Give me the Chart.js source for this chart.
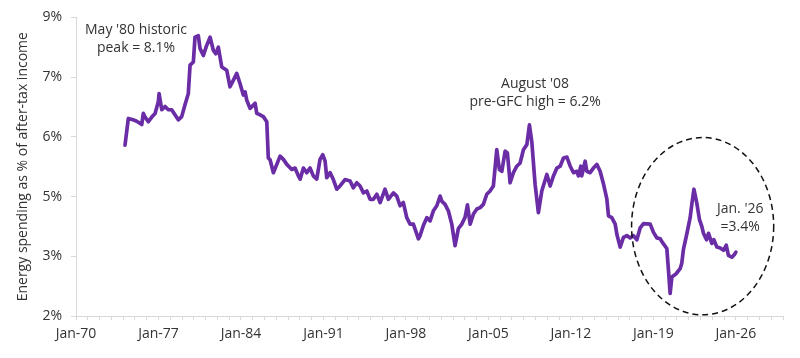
<!DOCTYPE html>
<html>
<head>
<meta charset="utf-8">
<script src="https://cdn.jsdelivr.net/npm/chart.js@4.4.1/dist/chart.umd.min.js"></script>
<style>
html,body{margin:0;padding:0;background:#fff;}
#wrap{width:800px;height:358px;position:relative;}
</style>
</head>
<body>
<div id="wrap"><canvas id="c" width="800" height="358"></canvas></div>
<script>
// ---- Data (decimal year, % of after-tax income) ----
const dates = [
1974.16,1974.44,1974.84,1975.15,1975.58,1975.71,1975.86,1976.14,1976.43,1976.71,1976.99,1977.05,1977.28,1977.56,1977.84,
1978.12,1978.40,1978.68,1978.97,1979.25,1979.53,1979.68,1979.96,1980.10,1980.38,1980.53,1980.81,1981.09,1981.38,1981.66,
1981.86,1982.08,1982.37,1982.79,1983.07,1983.35,1983.64,1983.92,1984.20,1984.35,1984.49,1984.77,1985.05,1985.20,1985.34,
1985.62,1985.90,1986.19,1986.32,1986.47,1986.75,1987.04,1987.32,1987.60,1987.89,1988.31,1988.59,1988.87,1989.02,1989.30,
1989.58,1989.86,1990.14,1990.43,1990.71,1990.94,1991.14,1991.28,1991.56,1991.84,1992.13,1992.41,1992.83,1993.26,1993.54,
1993.83,1994.11,1994.39,1994.68,1994.96,1995.24,1995.53,1995.81,1996.23,1996.51,1996.94,1997.22,1997.50,1997.78,1998.07,
1998.35,1998.63,1999.06,1999.20,1999.48,1999.77,2000.05,2000.33,2000.62,2000.90,2001.04,2001.32,2001.60,2001.89,2002.17,
2002.45,2002.74,2003.02,2003.22,2003.45,2003.73,2004.02,2004.30,2004.57,2004.86,2005.14,2005.42,2005.71,2005.93,2006.14,
2006.42,2006.61,2006.84,2007.12,2007.41,2007.69,2007.97,2008.26,2008.48,2008.68,2008.96,2009.24,2009.53,2009.96,2010.24,
2010.52,2010.81,2011.09,2011.37,2011.66,2011.94,2012.22,2012.50,2012.64,2012.84,2012.92,2013.21,2013.35,2013.63,2013.91,
2014.20,2014.48,2014.76,2015.05,2015.19,2015.47,2015.76,2015.90,2016.18,2016.46,2016.75,2017.03,2017.31,2017.60,2017.88,
2018.16,2018.73,2019.01,2019.30,2019.58,2019.72,2020.14,2020.28,2020.42,2020.57,2020.93,2021.27,2021.41,2021.55,2021.84,
2022.12,2022.26,2022.44,2022.69,2022.91,2023.11,2023.25,2023.51,2023.68,2023.96,2024.13,2024.39,2024.67,2024.95,2025.18,
2025.37,2025.66,2025.88,2026.00
];
const values = [
5.72,6.30,6.27,6.24,6.17,6.41,6.33,6.23,6.33,6.41,6.67,6.84,6.49,6.56,6.49,
6.49,6.38,6.27,6.34,6.60,6.84,7.46,7.53,8.07,8.10,7.82,7.67,7.89,8.07,7.78,
7.71,7.85,7.42,7.35,6.99,7.13,7.28,7.06,6.81,6.88,6.70,6.52,6.59,6.63,6.41,
6.38,6.34,6.23,5.44,5.40,5.12,5.30,5.48,5.41,5.30,5.19,5.22,5.05,4.98,5.22,
5.12,5.22,5.05,4.98,5.41,5.51,5.37,5.01,5.12,4.97,4.76,4.83,4.97,4.94,4.79,
4.90,4.83,4.68,4.72,4.54,4.54,4.65,4.47,4.76,4.54,4.68,4.61,4.40,4.47,4.14,
4.00,4.00,3.68,3.75,3.97,4.14,4.07,4.29,4.40,4.61,4.50,4.43,4.29,4.00,3.53,
3.90,4.00,4.15,4.42,4.00,4.22,4.33,4.36,4.43,4.65,4.72,4.83,5.62,5.19,5.15,
5.59,5.55,4.90,5.12,5.26,5.33,5.62,5.73,6.16,5.80,4.87,4.25,4.72,5.08,4.83,
5.05,5.22,5.26,5.44,5.46,5.26,5.12,5.15,5.05,5.26,5.05,5.37,5.15,5.12,5.22,
5.30,5.15,4.88,4.55,4.18,4.14,4.00,3.78,3.50,3.71,3.75,3.70,3.75,3.66,3.92,
4.01,4.00,3.82,3.70,3.68,3.62,3.47,3.00,2.49,2.85,2.92,3.03,3.15,3.45,3.79,
4.14,4.43,4.76,4.45,4.10,3.95,3.80,3.66,3.80,3.58,3.66,3.50,3.48,3.43,3.54,
3.32,3.28,3.34,3.39
];
const xTickYears = [1970,1977,1984,1991,1998,2005,2012,2019,2026];
const yTickValues = [2,3.3,4.6,5.9,7.2,8.5];
const xMin = 1970, xMax = 2030;

const notes = [
  {x: 1975.09, y: 8.23, lines: ["May '80 historic", "peak = 8.1%"]},
  {x: 2008.96, y: 7.05, lines: ["August '08", "pre-GFC high = 6.2%"]},
  {x: 2026.37, y: 4.33, lines: ["Jan. '26", "=3.4%"]}
];
const ellipse = {x: 2023.18, y: 3.955, rx: 6.03, ry: 1.93};

const points = dates.map((d, i) => ({x: d, y: values[i]}));

const notesPlugin = {
  id: 'notes',
  afterDatasetsDraw(chart) {
    const {ctx, scales: {x, y}} = chart;
    ctx.save();
    ctx.font = '14px "Open Sans"';
    ctx.fillStyle = '#333333';
    ctx.textAlign = 'center';
    ctx.textBaseline = 'middle';
    notes.forEach(n => {
      const px = x.getPixelForValue(n.x);
      const py = y.getPixelForValue(n.y);
      n.lines.forEach((t, i) => ctx.fillText(t, px, py + i * 18.5));
    });
    const cx = x.getPixelForValue(ellipse.x);
    const cy = y.getPixelForValue(ellipse.y);
    const rx = Math.abs(x.getPixelForValue(ellipse.x + ellipse.rx) - cx);
    const ry = Math.abs(y.getPixelForValue(ellipse.y + ellipse.ry) - cy);
    ctx.setLineDash([6, 4]);
    ctx.lineWidth = 1.5;
    ctx.strokeStyle = '#111111';
    ctx.beginPath();
    ctx.ellipse(cx, cy, rx, ry, 0, 0, Math.PI * 2);
    ctx.stroke();
    ctx.restore();
  }
};

new Chart(document.getElementById('c'), {
  type: 'line',
  data: {
    datasets: [{
      data: points,
      borderColor: '#6A2DA6',
      borderWidth: 3.7,
      pointRadius: 0,
      tension: 0,
      borderJoinStyle: 'round',
      borderCapStyle: 'round',
      fill: false
    }]
  },
  options: {
    responsive: false,
    animation: false,
    devicePixelRatio: 1,
    layout: {padding: {top: 15, right: 17, left: 0, bottom: 0}},
    plugins: {legend: {display: false}, tooltip: {enabled: false}},
    scales: {
      x: {
        type: 'linear',
        min: xMin, max: xMax,
        afterBuildTicks: s => {
          const t = [];
          for (let yv = xMin; yv <= xMax; yv++) t.push({value: yv});
          s.ticks = t;
        },
        afterFit: s => { s.height = 42; },
        grid: {display: true, drawOnChartArea: false, drawTicks: true, tickLength: 4, color: '#d9d9d9'},
        border: {display: true, color: '#d9d9d9', width: 1},
        ticks: {
          autoSkip: false, maxRotation: 0, padding: 6,
          color: '#333333',
          font: {family: 'Open Sans', size: 14},
          callback: v => xTickYears.includes(v) ? 'Jan-' + String(v).slice(2) : ''
        }
      },
      y: {
        min: 2, max: 8.5,
        afterBuildTicks: s => { s.ticks = yTickValues.map(v => ({value: v})); },
        afterFit: s => { s.width = 76; },
        grid: {display: true, drawOnChartArea: false, drawTicks: true, tickLength: 5, color: '#d9d9d9'},
        border: {display: true, color: '#d9d9d9', width: 1},
        ticks: {
          padding: 9,
          color: '#333333',
          font: {family: 'Open Sans', size: 14},
          callback: v => Math.round(v) + '%'
        },
        title: {
          display: true,
          text: 'Energy spending as % of after-tax income',
          color: '#333333',
          font: {family: 'Open Sans', size: 14},
          padding: {top: 15, bottom: 0}
        }
      }
    }
  },
  plugins: [notesPlugin]
});
</script>
</body>
</html>
